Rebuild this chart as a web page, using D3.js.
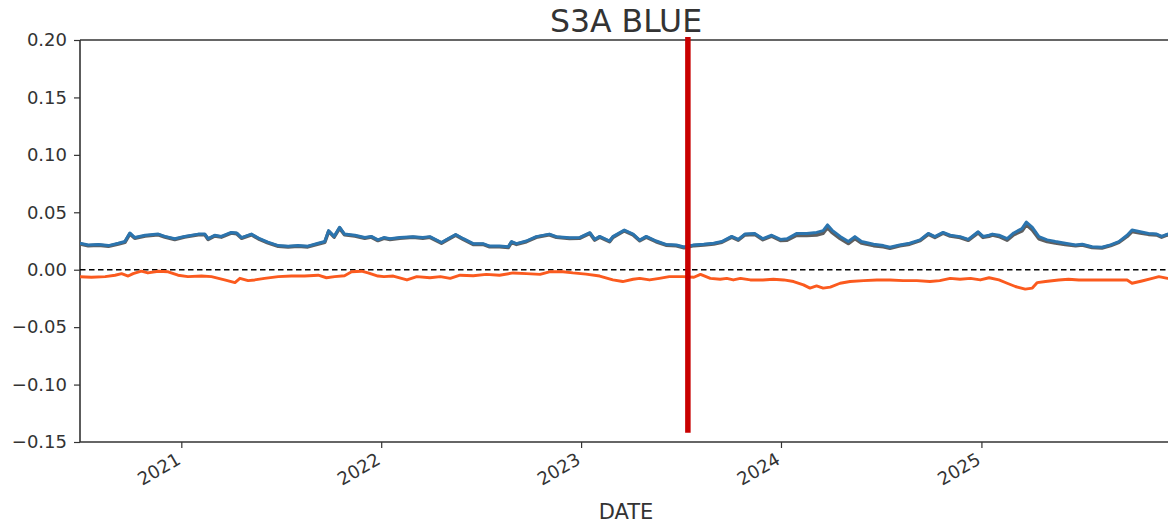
<!DOCTYPE html>
<html>
<head>
<meta charset="utf-8">
<script src="https://cdnjs.cloudflare.com/ajax/libs/d3/7.8.5/d3.min.js"></script>
<style>
  body { margin: 0; background: #fff; }
  .d3chart text { font-family: "DejaVu Sans", sans-serif; fill: #333; }
</style>
</head>
<body>
<div class="d3chart"></div>
<script>
var chartTitle = "S3A BLUE";
var xLabel = "DATE";
var yTicks = [0.20, 0.15, 0.10, 0.05, 0.00, -0.05, -0.10, -0.15];
var xTickYears = ["2021-01-01", "2022-01-01", "2023-01-01", "2024-01-01", "2025-01-01"];
var xDomain = ["2020-06-30", "2025-12-15"];
var yDomain = [-0.15, 0.20];
var markerDate = "2023-07-15";
var markerSpan = [-0.142, 0.2026];

// blue + gray share dates
var blueDates = ["2020-06-30","2020-07-15","2020-08-03","2020-08-21","2020-09-08","2020-09-20","2020-09-29","2020-10-08","2020-10-27","2020-11-20",
  "2020-12-02","2020-12-20","2021-01-07","2021-02-01","2021-02-13","2021-02-19","2021-03-03","2021-03-15","2021-04-02","2021-04-12",
  "2021-04-21","2021-05-09","2021-05-24","2021-06-08","2021-06-27","2021-07-15","2021-08-02","2021-08-20","2021-09-08","2021-09-20",
  "2021-09-27","2021-10-07","2021-10-17","2021-10-26","2021-11-14","2021-12-02","2021-12-14","2021-12-26","2022-01-06","2022-01-17",
  "2022-02-04","2022-02-28","2022-03-18","2022-03-31","2022-04-21","2022-05-03","2022-05-17","2022-05-31","2022-06-18","2022-07-06",
  "2022-07-18","2022-08-05","2022-08-21","2022-08-27","2022-09-05","2022-09-23","2022-10-11","2022-11-04","2022-11-17","2022-12-11",
  "2022-12-29","2023-01-17","2023-01-26","2023-02-04","2023-02-22","2023-02-28","2023-03-21","2023-04-06","2023-04-18","2023-04-30",
  "2023-05-18","2023-06-05","2023-06-24","2023-07-08","2023-07-26","2023-08-13","2023-08-31","2023-09-15","2023-10-03","2023-10-15",
  "2023-10-27","2023-11-14","2023-11-29","2023-12-15","2023-12-31","2024-01-12","2024-01-30","2024-02-17","2024-03-06","2024-03-18",
  "2024-03-26","2024-04-03","2024-04-18","2024-05-03","2024-05-15","2024-05-27","2024-06-18","2024-07-06","2024-07-18","2024-08-05",
  "2024-08-23","2024-09-11","2024-09-26","2024-10-08","2024-10-23","2024-11-05","2024-11-23","2024-12-08","2024-12-26","2025-01-04",
  "2025-01-15","2025-01-21","2025-02-02","2025-02-17","2025-03-01","2025-03-16","2025-03-24","2025-04-04","2025-04-16","2025-05-01",
  "2025-05-16","2025-06-03","2025-06-22","2025-07-04","2025-07-22","2025-08-09","2025-08-25","2025-09-09","2025-09-24","2025-10-03",
  "2025-10-18","2025-11-02","2025-11-17","2025-11-26","2025-12-07","2025-12-15"];
var blueValues = [0.023,0.0215,0.022,0.021,0.023,0.0245,0.032,0.028,0.030,0.031,
  0.029,0.027,0.029,0.031,0.031,0.027,0.030,0.029,0.0325,0.032,
  0.028,0.031,0.027,0.024,0.021,0.0205,0.021,0.0205,0.023,0.0245,
  0.034,0.029,0.037,0.031,0.030,0.028,0.029,0.026,0.028,0.027,
  0.028,0.0288,0.028,0.0288,0.0237,0.027,0.0307,0.027,0.0227,0.0227,
  0.0206,0.0206,0.020,0.0245,0.0227,0.025,0.0288,0.031,0.0288,0.0278,
  0.028,0.0322,0.0264,0.029,0.025,0.0288,0.0345,0.031,0.0258,0.029,
  0.025,0.022,0.0215,0.0198,0.0216,0.0222,0.023,0.0245,0.029,0.0264,
  0.031,0.0316,0.027,0.030,0.0264,0.027,0.0316,0.0316,0.0325,0.034,
  0.039,0.0345,0.029,0.0245,0.0288,0.0245,0.0222,0.021,0.0195,0.0216,
  0.023,0.026,0.0316,0.0288,0.0325,0.030,0.0288,0.0264,0.033,0.029,
  0.030,0.031,0.030,0.027,0.032,0.0358,0.0415,0.0368,0.0288,0.026,
  0.0245,0.023,0.0216,0.0222,0.020,0.0195,0.0216,0.0245,0.030,0.0345,
  0.033,0.0316,0.031,0.029,0.031,0.0295];
var grayValues = [0.0224,0.0209,0.0214,0.0204,0.0224,0.0239,0.0312,0.0274,0.0294,0.0304,
  0.0284,0.0264,0.0284,0.0304,0.0304,0.0264,0.0294,0.0284,0.0319,0.0314,
  0.0274,0.0304,0.0264,0.0234,0.0204,0.0199,0.0204,0.0199,0.0224,0.0239,
  0.0334,0.0284,0.0362,0.0304,0.0294,0.0274,0.0284,0.0254,0.0274,0.0264,
  0.0274,0.0282,0.0274,0.0282,0.0231,0.0264,0.0301,0.0264,0.0221,0.0221,
  0.0200,0.0200,0.0194,0.0239,0.0221,0.0244,0.0282,0.0304,0.0282,0.0272,
  0.0274,0.0316,0.0258,0.0284,0.0244,0.0282,0.0339,0.0304,0.0252,0.0284,
  0.0244,0.0214,0.0209,0.0192,0.0210,0.0216,0.0224,0.0239,0.0284,0.0258,
  0.0303,0.0308,0.0262,0.0292,0.0255,0.0258,0.0300,0.0298,0.0303,0.0318,
  0.0368,0.0325,0.0272,0.0228,0.0272,0.0232,0.0210,0.0200,0.0187,0.0209,
  0.0223,0.0253,0.0309,0.0281,0.0318,0.0293,0.0281,0.0257,0.0322,0.0282,
  0.0292,0.0302,0.0290,0.0258,0.0305,0.0338,0.0392,0.0346,0.0270,0.0245,
  0.0232,0.0220,0.0208,0.0215,0.0194,0.0189,0.0210,0.0238,0.0290,0.0333,
  0.0320,0.0308,0.0303,0.0284,0.0304,0.0289];

var orangeDates = ["2020-06-30","2020-07-21","2020-08-15","2020-09-02","2020-09-14","2020-09-26","2020-10-05","2020-10-20","2020-11-01","2020-11-20",
  "2020-12-08","2020-12-26","2021-01-13","2021-02-07","2021-02-25","2021-03-21","2021-04-09","2021-04-18","2021-05-03","2021-05-15",
  "2021-06-02","2021-06-27","2021-07-21","2021-08-14","2021-09-08","2021-09-23","2021-10-08","2021-10-26","2021-11-08","2021-11-26",
  "2021-12-08","2021-12-26","2022-01-06","2022-01-23","2022-02-17","2022-03-07","2022-03-31","2022-04-19","2022-05-07","2022-05-25",
  "2022-06-18","2022-07-12","2022-08-05","2022-08-30","2022-09-23","2022-10-18","2022-11-04","2022-11-29","2022-12-17","2023-01-10",
  "2023-02-04","2023-02-28","2023-03-18","2023-04-06","2023-04-18","2023-05-06","2023-05-24","2023-06-11","2023-07-06","2023-07-26",
  "2023-08-07","2023-08-25","2023-09-12","2023-09-24","2023-10-06","2023-10-19","2023-11-06","2023-11-29","2023-12-18","2024-01-06",
  "2024-01-24","2024-02-11","2024-02-23","2024-03-06","2024-03-18","2024-03-31","2024-04-18","2024-05-06","2024-05-31","2024-06-24",
  "2024-07-18","2024-08-11","2024-09-05","2024-09-29","2024-10-17","2024-11-05","2024-11-23","2024-12-12","2024-12-30","2025-01-15",
  "2025-02-02","2025-02-17","2025-03-04","2025-03-22","2025-04-04","2025-04-13","2025-04-28","2025-05-22","2025-06-09","2025-06-28",
  "2025-07-22","2025-08-15","2025-09-09","2025-09-24","2025-10-03","2025-10-21","2025-11-09","2025-11-21","2025-12-07","2025-12-15"];
var orangeValues = [-0.0061,-0.0066,-0.006,-0.0048,-0.0034,-0.0055,-0.0034,-0.0013,-0.0028,-0.0013,
  -0.0018,-0.0048,-0.006,-0.0055,-0.006,-0.0089,-0.0112,-0.0075,-0.0095,-0.0089,
  -0.0075,-0.006,-0.0055,-0.0055,-0.0048,-0.007,-0.006,-0.0052,-0.0018,-0.0013,
  -0.0028,-0.0055,-0.006,-0.0055,-0.0089,-0.006,-0.007,-0.006,-0.0075,-0.0048,
  -0.0052,-0.0041,-0.0048,-0.0028,-0.0034,-0.0041,-0.0018,-0.0018,-0.0028,-0.0038,
  -0.0055,-0.0089,-0.0103,-0.0083,-0.0075,-0.0089,-0.0075,-0.006,-0.006,-0.0066,
  -0.0041,-0.0075,-0.0083,-0.0075,-0.0089,-0.0075,-0.0089,-0.0089,-0.0083,-0.0089,
  -0.0103,-0.0132,-0.016,-0.0141,-0.016,-0.0152,-0.0118,-0.0103,-0.0095,-0.0089,
  -0.0089,-0.0095,-0.0095,-0.0103,-0.0095,-0.0075,-0.0083,-0.0075,-0.0089,-0.007,
  -0.0089,-0.0118,-0.0146,-0.0169,-0.016,-0.0112,-0.0103,-0.0089,-0.0083,-0.0089,
  -0.0089,-0.0089,-0.0089,-0.009,-0.0118,-0.0098,-0.0075,-0.006,-0.0075,-0.0078];

var width = 1168, height = 527;
var margin = {left: 80, top: 40, right: -4, bottom: 85};
var parse = d3.timeParse("%Y-%m-%d");

var svg = d3.select(".d3chart").append("svg")
    .attr("width", width)
    .attr("height", height);

/************* Scales ***************/
var x = d3.scaleTime()
    .domain(xDomain.map(parse))
    .range([margin.left, width - margin.right]);
var y = d3.scaleLinear()
    .domain(yDomain)
    .range([height - margin.bottom, margin.top]);

var blueData = blueDates.map(function(d, i){ return {date: parse(d), blue: blueValues[i], gray: grayValues[i]}; });
var orangeData = orangeDates.map(function(d, i){ return {date: parse(d), value: orangeValues[i]}; });

svg.append("defs").append("clipPath").attr("id", "plotclip")
    .append("rect")
    .attr("x", x.range()[0]).attr("y", y.range()[1])
    .attr("width", x.range()[1] - x.range()[0])
    .attr("height", y.range()[0] - y.range()[1]);

/************* Axes ***************/
var yAxis = d3.axisLeft(y)
    .tickValues(yTicks)
    .tickSize(6)
    .tickPadding(7)
    .tickFormat(function(d){ return d3.format(".2f")(d).replace("-", "\u2212"); });
var gy = svg.append("g")
    .attr("transform", "translate(" + margin.left + ",0)")
    .call(yAxis);
gy.select(".domain").remove();
gy.selectAll(".tick line").attr("stroke", "#333").attr("stroke-width", 1.2);
gy.selectAll(".tick text").style("font-size", "18px").attr("fill", "#333");

var xAxis = d3.axisBottom(x)
    .tickValues(xTickYears.map(parse))
    .tickSize(6)
    .tickFormat(d3.timeFormat("%Y"));
var gx = svg.append("g")
    .attr("transform", "translate(0," + y(yDomain[0]) + ")")
    .call(xAxis);
gx.select(".domain").remove();
gx.selectAll(".tick line").attr("stroke", "#333").attr("stroke-width", 1.2);
gx.selectAll(".tick text")
    .style("font-size", "18px")
    .attr("fill", "#333")
    .attr("text-anchor", "end")
    .attr("y", 0)
    .attr("dy", 0)
    .attr("transform", "translate(0,21) rotate(-30)");

/************* Spines ***************/
svg.append("line")
    .attr("x1", x.range()[0]).attr("x2", x.range()[0])
    .attr("y1", y.range()[0]).attr("y2", y.range()[1])
    .attr("stroke", "#333").attr("stroke-width", 1.6);
svg.append("line")
    .attr("x1", x.range()[0]).attr("x2", x.range()[1])
    .attr("y1", y.range()[0]).attr("y2", y.range()[0])
    .attr("stroke", "#333").attr("stroke-width", 1.6);
svg.append("line")
    .attr("x1", x.range()[0]).attr("x2", x.range()[1])
    .attr("y1", y.range()[1]).attr("y2", y.range()[1])
    .attr("stroke", "#333").attr("stroke-width", 1.6);

/************* Lines ***************/
var plot = svg.append("g").attr("clip-path", "url(#plotclip)");

plot.append("line")
    .attr("x1", x.range()[0]).attr("x2", x.range()[1])
    .attr("y1", y(0)).attr("y2", y(0))
    .attr("stroke", "#000").attr("stroke-width", 1.4)
    .attr("stroke-dasharray", "5.5,3.5");

var grayLine = d3.line().x(function(d){ return x(d.date); }).y(function(d){ return y(d.gray); });
var blueLine = d3.line().x(function(d){ return x(d.date); }).y(function(d){ return y(d.blue); });
var orangeLine = d3.line().x(function(d){ return x(d.date); }).y(function(d){ return y(d.value); });

plot.append("path").datum(blueData)
    .attr("d", grayLine)
    .attr("fill", "none").attr("stroke", "#5f5f5f").attr("stroke-width", 3.6)
    .attr("stroke-linejoin", "round");
plot.append("path").datum(blueData)
    .attr("d", blueLine)
    .attr("fill", "none").attr("stroke", "#2b74ae").attr("stroke-width", 3)
    .attr("stroke-linejoin", "round");
plot.append("path").datum(orangeData)
    .attr("d", orangeLine)
    .attr("fill", "none").attr("stroke", "#fb5a1e").attr("stroke-width", 2.9)
    .attr("stroke-linejoin", "round");

/************* Marker ***************/
svg.append("line")
    .attr("x1", x(parse(markerDate))).attr("x2", x(parse(markerDate)))
    .attr("y1", y(markerSpan[0])).attr("y2", y(markerSpan[1]))
    .attr("stroke", "#c80000").attr("stroke-width", 5.5);

/************* Labels ***************/
var cx = (x.range()[0] + x.range()[1]) / 2;
svg.append("text")
    .attr("x", cx).attr("y", 32)
    .attr("text-anchor", "middle")
    .style("font-size", "31.5px")
    .attr("fill", "#222")
    .text(chartTitle);
svg.append("text")
    .attr("x", cx).attr("y", 519)
    .attr("text-anchor", "middle")
    .style("font-size", "21px")
    .text(xLabel);
</script>
</body>
</html>
